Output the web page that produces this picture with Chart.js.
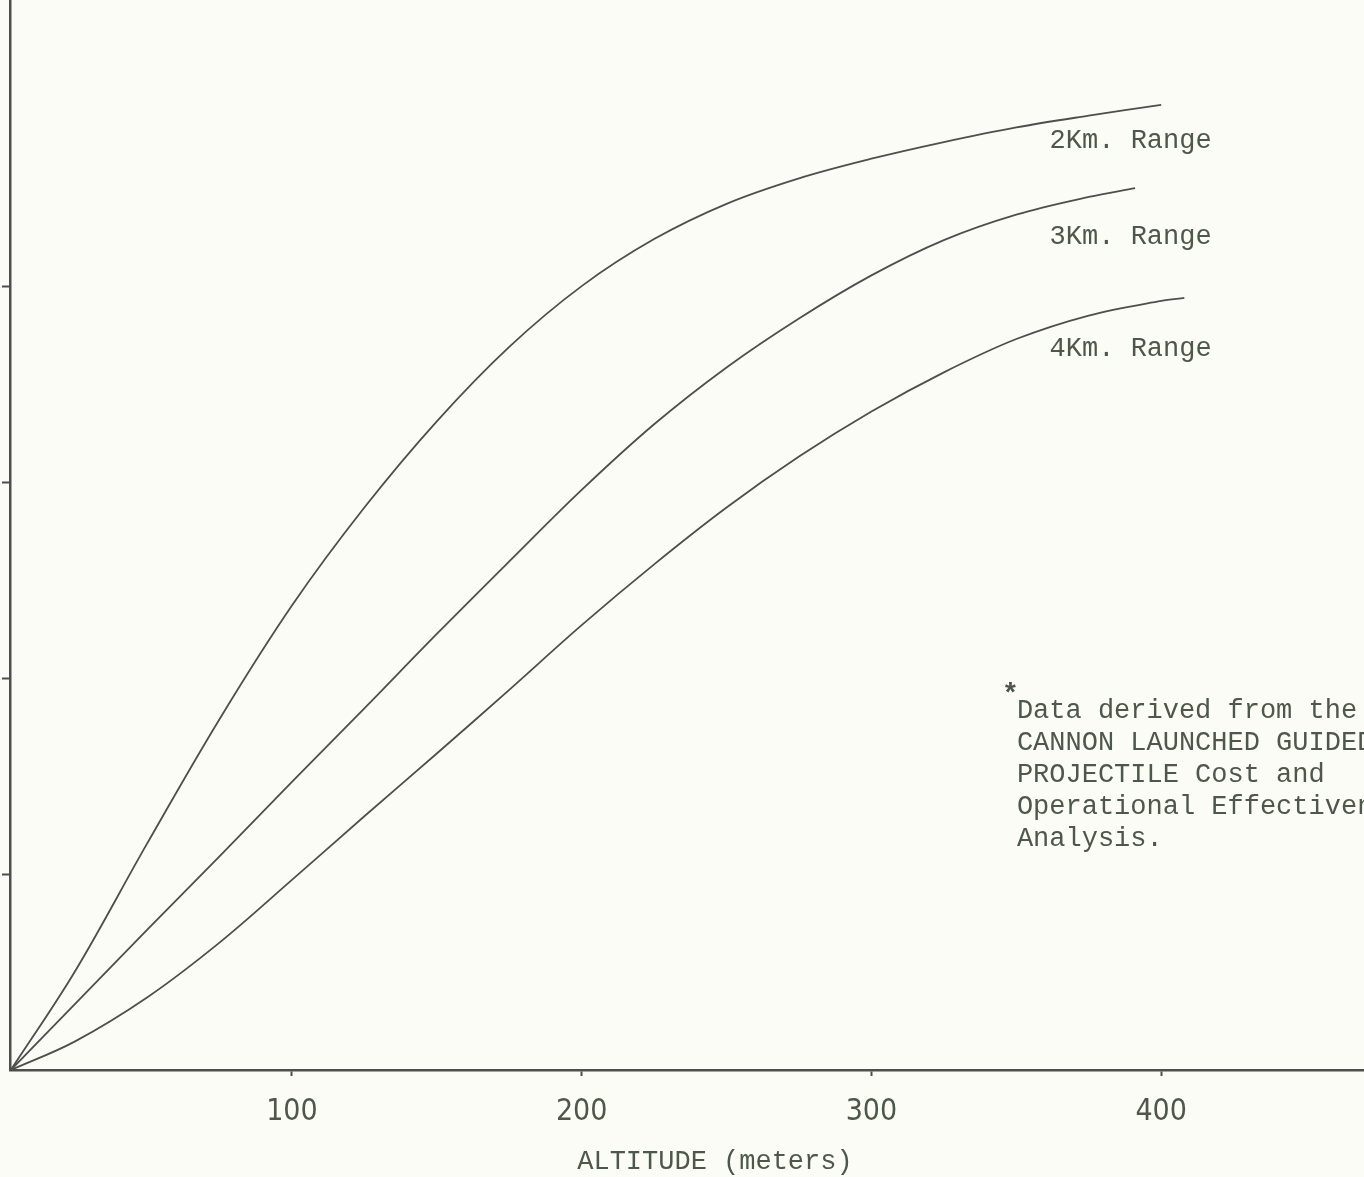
<!DOCTYPE html>
<html>
<head>
<meta charset="utf-8">
<script src="https://cdn.jsdelivr.net/npm/chart.js@4.4.1/dist/chart.umd.min.js"></script>
<style>
  html, body { margin: 0; padding: 0; background: #fbfcf5; }
  #wrap { width: 1364px; height: 1177px; }
</style>
</head>
<body>
<div id="wrap"><canvas id="altitude-chart" width="1364" height="1177"></canvas></div>
<script>
"use strict";

////////  DATA ///////////
// altitude (meters) vs. value (y axis has no labels)
const range2_alt = [3, 25, 50, 75, 100, 125, 150, 175, 200, 225, 250, 275, 300, 325, 350, 375, 400];
const range2_val = [0, 0.100, 0.231, 0.358, 0.474, 0.574, 0.662, 0.738, 0.800, 0.848, 0.884, 0.910, 0.930, 0.947, 0.962, 0.974, 0.985];

const range3_alt = [3, 25, 50, 75, 100, 125, 150, 175, 200, 225, 250, 275, 300, 325, 350, 375, 391];
const range3_val = [0, 0.067, 0.143, 0.218, 0.294, 0.369, 0.445, 0.519, 0.592, 0.659, 0.717, 0.767, 0.811, 0.847, 0.873, 0.891, 0.900];

const range4_alt = [3, 25, 50, 75, 100, 125, 150, 175, 200, 225, 250, 275, 300, 325, 350, 375, 400, 408];
const range4_val = [0, 0.029, 0.074, 0.130, 0.194, 0.259, 0.323, 0.388, 0.454, 0.516, 0.574, 0.626, 0.672, 0.712, 0.746, 0.770, 0.785, 0.788];

const x_ticks = [100, 200, 300, 400];
const y_ticks = [0.2, 0.4, 0.6, 0.8];

const curve_labels = ['2Km. Range', '3Km. Range', '4Km. Range'];
const x_title = 'ALTITUDE (meters)';
const footnote_lines = [
  'Data derived from the',
  'CANNON LAUNCHED GUIDED',
  'PROJECTILE Cost and',
  'Operational Effectiveness',
  'Analysis.'
];

////////  STYLE ///////////
const paper_color = '#fbfcf5';
const ink_color = '#4e4f4c';
const text_color = '#4d574b';
const mono_font = "'Liberation Mono', 'DejaVu Sans Mono', monospace";
const num_font = "'Liberation Sans Narrow', 'DejaVu Sans Condensed', sans-serif";

function to_points(xs, ys) {
  return xs.map((x, i) => ({x: x, y: ys[i]}));
}

function make_dataset(label, xs, ys) {
  return {
    label: label,
    data: to_points(xs, ys),
    borderColor: ink_color,
    borderWidth: 1.8,
    pointRadius: 0,
    fill: false,
    tension: 0.35
  };
}

// paper background + typed text on the figure
const paper_plugin = {
  id: 'paper',
  beforeDraw(chart) {
    const ctx = chart.ctx;
    ctx.save();
    ctx.fillStyle = paper_color;
    ctx.fillRect(0, 0, chart.width, chart.height);
    ctx.restore();
  },
  afterDraw(chart) {
    const ctx = chart.ctx;
    const xs = chart.scales.x;
    const ys = chart.scales.y;
    ctx.save();
    ctx.fillStyle = text_color;
    ctx.textBaseline = 'middle';
    ctx.textAlign = 'left';
    ctx.font = "27px " + mono_font;

    // curve labels
    const lbl_alt = 361.5;
    const lbl_y = [0.948, 0.850, 0.736];
    curve_labels.forEach((t, i) => {
      ctx.fillText(t, xs.getPixelForValue(lbl_alt), ys.getPixelForValue(lbl_y[i]));
    });

    // footnote
    const fx = xs.getPixelForValue(350.2);
    const fy = ys.getPixelForValue(0.367);
    ctx.font = "bold 28px " + mono_font;
    ctx.fillText('*', fx - 15, fy - 15);
    ctx.font = "27px " + mono_font;
    footnote_lines.forEach((t, i) => {
      ctx.fillText(t, fx, fy + i * 32.2);
    });

    // axis title
    ctx.textAlign = 'center';
    ctx.fillText(x_title, xs.getPixelForValue(246), chart.height - 15);
    ctx.restore();
  }
};

const chart_config = {
  type: 'line',
  data: {
    datasets: [
      make_dataset(curve_labels[0], range2_alt, range2_val),
      make_dataset(curve_labels[1], range3_alt, range3_val),
      make_dataset(curve_labels[2], range4_alt, range4_val)
    ]
  },
  options: {
    responsive: false,
    animation: false,
    layout: { padding: 0 },
    plugins: {
      legend: { display: false },
      title: { display: false },
      tooltip: { enabled: false }
    },
    scales: {
      x: {
        type: 'linear',
        min: 2.7,
        max: 470,
        afterBuildTicks: s => { s.ticks = x_ticks.map(v => ({value: v})); },
        afterFit: s => { s.height = 107; },
        border: { color: ink_color, width: 2.5 },
        grid: {
          drawOnChartArea: false,
          tickLength: 6,
          tickWidth: 2,
          tickColor: ink_color
        },
        ticks: {
          padding: 18,
          color: text_color,
          maxRotation: 0,
          font: { family: num_font, size: 30 },
          callback: v => String(v)
        }
      },
      y: {
        min: 0,
        max: 1.092,
        afterBuildTicks: s => { s.ticks = y_ticks.map(v => ({value: v})); },
        afterFit: s => { s.width = 10; },
        border: { color: ink_color, width: 2.5 },
        grid: {
          drawOnChartArea: false,
          tickLength: 8,
          tickWidth: 2,
          tickColor: ink_color
        },
        ticks: { display: false }
      }
    }
  },
  plugins: [paper_plugin]
};

const alt_chart = new Chart(document.getElementById('altitude-chart').getContext('2d'), chart_config);
</script>
</body>
</html>
